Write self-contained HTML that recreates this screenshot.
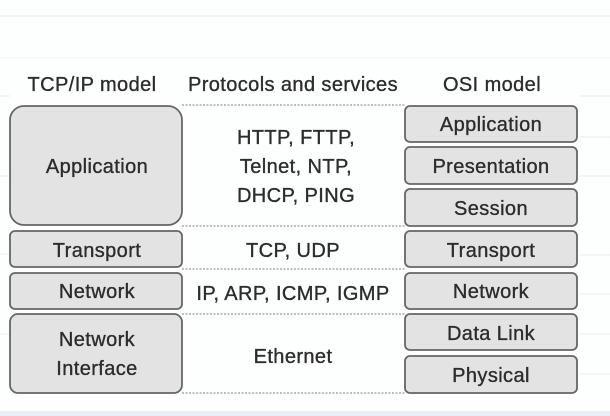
<!DOCTYPE html>
<html><head><style>
html,body{margin:0;padding:0;background:#fdfefe;}
svg{display:block}
text{font-family:"Liberation Sans",sans-serif;font-size:20px;fill:#2c2c2c;stroke:#2c2c2c;stroke-width:0.35;text-anchor:middle;letter-spacing:0.4px}
</style></head><body>
<svg width="610" height="416" viewBox="0 0 610 416">
<rect width="610" height="416" fill="#fdfefe"/>
<line x1="0" y1="16" x2="610" y2="16" stroke="#e6eef1" stroke-width="1"/>
<line x1="0" y1="58" x2="610" y2="58" stroke="#eef3f5" stroke-width="1"/>
<line x1="0" y1="96" x2="10" y2="96" stroke="#e3ecef"/>
<line x1="580" y1="96" x2="610" y2="96" stroke="#e3ecef"/>
<line x1="580" y1="137" x2="610" y2="137" stroke="#e3ecef"/>
<line x1="0" y1="176" x2="10" y2="176" stroke="#e3ecef"/>
<line x1="580" y1="176" x2="610" y2="176" stroke="#e3ecef"/>
<line x1="0" y1="254" x2="10" y2="254" stroke="#e3ecef"/>
<line x1="580" y1="255" x2="610" y2="255" stroke="#e3ecef"/>
<line x1="580" y1="294" x2="610" y2="294" stroke="#e3ecef"/>
<line x1="0" y1="334" x2="10" y2="334" stroke="#e3ecef"/>
<line x1="580" y1="334" x2="610" y2="334" stroke="#e3ecef"/>
<line x1="580" y1="374" x2="610" y2="374" stroke="#e3ecef"/>
<rect x="0" y="411" width="610" height="5" fill="#e8eef2"/>

<text x="92" y="91">TCP/IP model</text>
<text x="293" y="91">Protocols and services</text>
<text x="492" y="91">OSI model</text>

<g stroke="#aaa" stroke-width="1.5" stroke-dasharray="2 1.5">
<line x1="182" y1="105" x2="405" y2="105"/>
<line x1="182" y1="226" x2="405" y2="226"/>
<line x1="182" y1="269" x2="405" y2="269"/>
<line x1="182" y1="314" x2="405" y2="314"/>
<line x1="182" y1="393" x2="405" y2="393"/>
</g>

<g fill="#e3e3e3" stroke="#666" stroke-width="1.8">
<rect x="10" y="106" width="172" height="119" rx="14"/>
<rect x="10" y="231" width="172" height="36" rx="5"/>
<rect x="10" y="273" width="172" height="36" rx="5"/>
<rect x="10" y="314" width="172" height="79" rx="8"/>
<rect x="405" y="106" width="172" height="36" rx="5"/>
<rect x="405" y="147" width="172" height="37" rx="5"/>
<rect x="405" y="189" width="172" height="37" rx="5"/>
<rect x="405" y="231" width="172" height="36" rx="5"/>
<rect x="405" y="273" width="172" height="36" rx="5"/>
<rect x="405" y="314" width="172" height="36" rx="5"/>
<rect x="405" y="356" width="172" height="37" rx="5"/>
</g>

<text x="97" y="173">Application</text>
<text x="97" y="257">Transport</text>
<text x="97" y="298">Network</text>
<text x="97" y="346">Network</text>
<text x="97" y="375">Interface</text>

<text x="296" y="144">HTTP, FTTP,</text>
<text x="296" y="173">Telnet, NTP,</text>
<text x="296" y="202">DHCP, PING</text>
<text x="293" y="257">TCP, UDP</text>
<text x="293" y="300">IP, ARP, ICMP, IGMP</text>
<text x="293" y="363">Ethernet</text>

<text x="491" y="131">Application</text>
<text x="491" y="173">Presentation</text>
<text x="491" y="215">Session</text>
<text x="491" y="257">Transport</text>
<text x="491" y="298">Network</text>
<text x="491" y="340">Data Link</text>
<text x="491" y="382">Physical</text>
</svg>
</body></html>
